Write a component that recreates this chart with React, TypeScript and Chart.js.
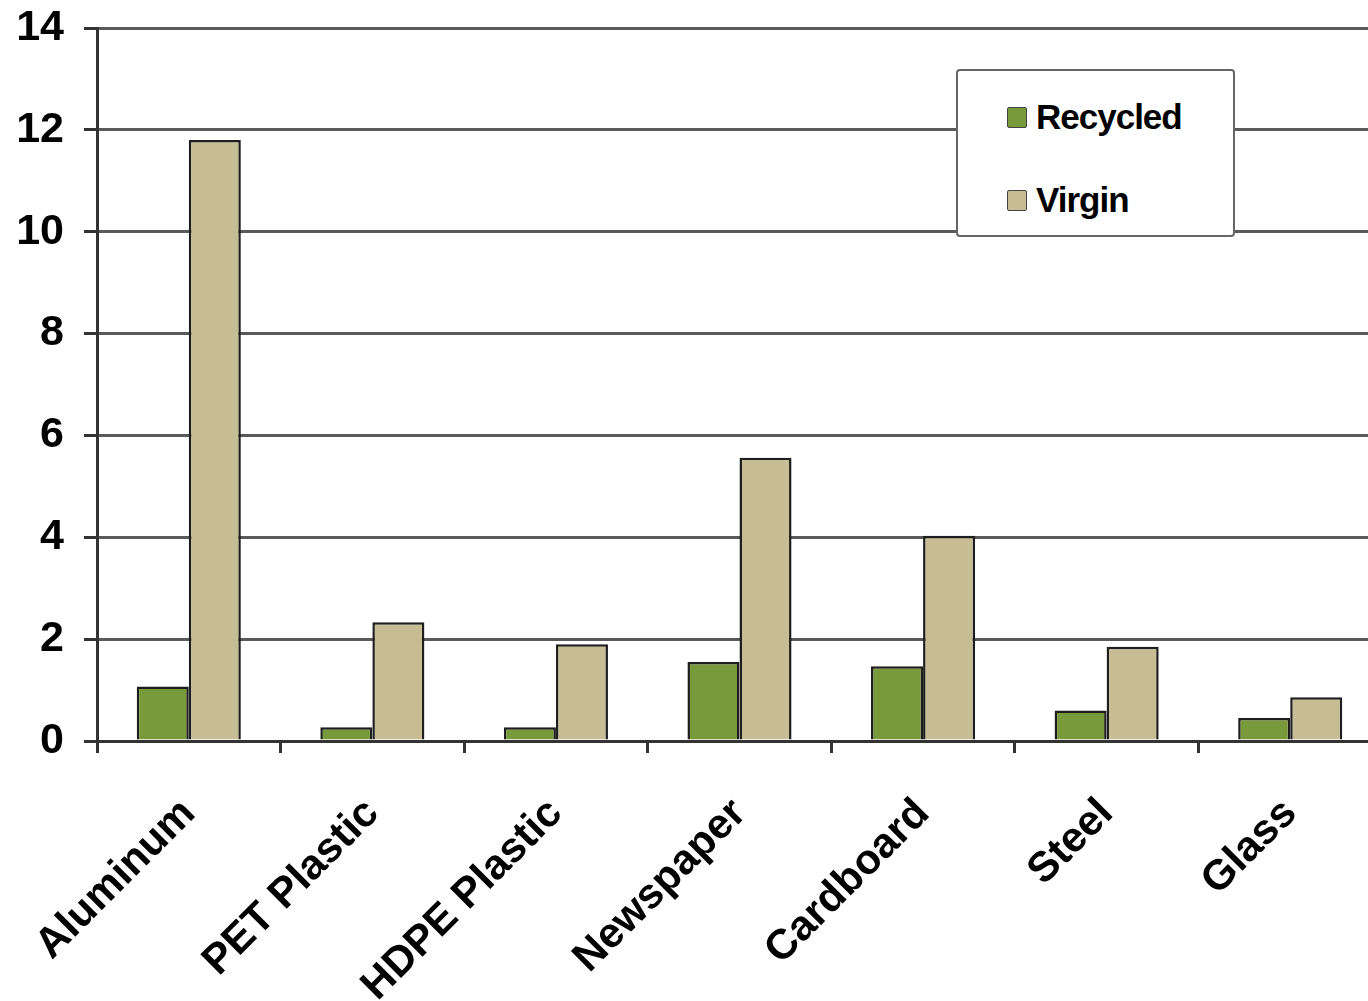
import React, { useEffect, useRef } from "react";
import { Chart, registerables } from "chart.js";

Chart.register(...registerables);

const categories = ["Aluminum", "PET Plastic", "HDPE Plastic", "Newspaper", "Cardboard", "Steel", "Glass"];
const recycled = [1.07, 0.27, 0.27, 1.55, 1.47, 0.6, 0.45];
const virgin = [11.8, 2.33, 1.9, 5.56, 4.03, 1.85, 0.86];
const seriesNames = ["Recycled", "Virgin"];
const yTicks = [0, 2, 4, 6, 8, 10, 12, 14];

const GREEN = "#789a3b";
const TAN = "#c7bd95";
const FONT = "'Liberation Sans', Arial, sans-serif";

export default function App() {
  const ref = useRef<HTMLCanvasElement | null>(null);

  useEffect(() => {
    document.body.style.overflow = "hidden";
    const ctx = ref.current!;
    const chart = new Chart(ctx, {
      type: "bar",
      data: {
        labels: categories,
        datasets: [
          {
            label: seriesNames[0],
            data: recycled,
            backgroundColor: GREEN,
            borderColor: "#1e1e1e",
            borderWidth: 2.5,
            categoryPercentage: 0.567,
            barPercentage: 1,
          },
          {
            label: seriesNames[1],
            data: virgin,
            backgroundColor: TAN,
            borderColor: "#1e1e1e",
            borderWidth: 2.5,
            categoryPercentage: 0.567,
            barPercentage: 1,
          },
        ],
      },
      options: {
        animation: false,
        responsive: false,
        maintainAspectRatio: false,
        layout: { padding: { top: 28, left: 0, right: 0, bottom: 0 } },
        plugins: {
          legend: { display: false },
          tooltip: { enabled: false },
        },
        scales: {
          x: {
            grid: {
              display: true,
              drawOnChartArea: false,
              offset: true,
              tickLength: 12,
              lineWidth: 3,
              color: "#333",
              tickColor: "#333",
            },
            border: { display: true, color: "#333", width: 3 },
            ticks: {
              minRotation: 45,
              maxRotation: 45,
              padding: 36,
              color: "#000",
              font: { family: FONT, size: 42, weight: "bold" },
            },
            afterFit: (s: any) => {
              s.height = 260;
              s.paddingLeft = 0;
              s.paddingRight = 0;
            },
          },
          y: {
            min: 0,
            max: 14,
            afterBuildTicks: (s: any) => {
              s.ticks = yTicks.map((v) => ({ value: v }));
            },
            grid: {
              color: "#5a5a5a",
              lineWidth: 3,
              tickLength: 13,
              tickColor: "#333",
            },
            border: { display: true, color: "#333", width: 3 },
            ticks: {
              padding: 20,
              color: "#000",
              font: { family: FONT, size: 43, weight: "bold" },
            },
            afterFit: (s: any) => {
              s.width = 97;
              s.paddingTop = 0;
              s.paddingBottom = 0;
            },
          },
        },
      },
    });
    return () => chart.destroy();
  }, []);

  return (
    <div style={{ position: "fixed", left: 0, top: 0, width: 1368, height: 1001, overflow: "hidden", background: "#fff" }}>
      <canvas ref={ref} width={1382} height={1001} style={{ position: "absolute", left: 0, top: 0, width: 1382, height: 1001 }} />
      <div
        style={{
          position: "absolute",
          left: 956,
          top: 69,
          width: 275,
          height: 164,
          border: "2px solid #666",
          borderRadius: 4,
          background: "#fff",
          fontFamily: FONT,
          fontWeight: "bold",
          fontSize: 35,
          color: "#000",
        }}
      >
        {seriesNames.map((name, i) => (
          <div key={name} style={{ position: "absolute", left: 49, top: i === 0 ? 26 : 109, height: 40, display: "flex", alignItems: "center" }}>
            <div style={{ width: 18, height: 19, background: i === 0 ? GREEN : TAN, border: "1.5px solid #444", borderRadius: 2, marginRight: 9 }} />
            <span style={{ lineHeight: "40px", letterSpacing: "-1px" }}>{name}</span>
          </div>
        ))}
      </div>
    </div>
  );
}
